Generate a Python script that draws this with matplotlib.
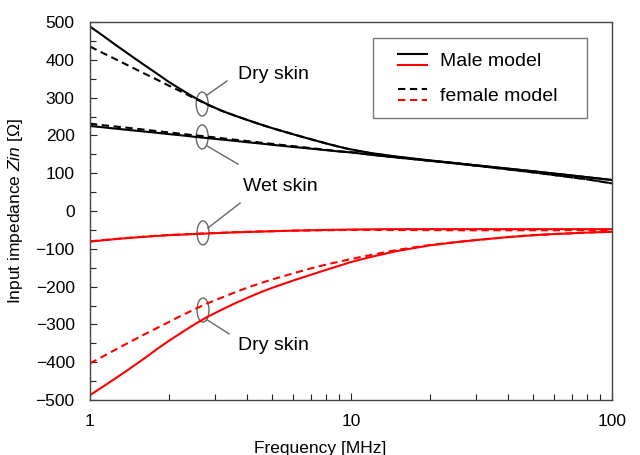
import matplotlib
matplotlib.use("Agg")
import matplotlib.pyplot as plt
from matplotlib.lines import Line2D
from matplotlib.patches import Ellipse
from matplotlib.legend_handler import HandlerBase
from matplotlib.transforms import ScaledTranslation
import numpy as np

plt.rcParams['font.family'] = ['Liberation Sans', 'DejaVu Sans']
plt.rcParams['mathtext.fontset'] = 'custom'
plt.rcParams['mathtext.it'] = 'Liberation Sans:italic'
plt.rcParams['mathtext.rm'] = 'Liberation Sans'

# ---- data ----
freq = [1, 1.12, 1.25, 1.4, 1.6, 1.8, 2, 2.25, 2.5, 2.8, 3.2, 3.6, 4, 4.5, 5,
        6, 7, 8, 9, 10, 12, 15, 20, 25, 30, 40, 50, 60, 70, 80, 100]

male_dry_re = [488, 464, 440, 416, 388, 364, 342, 320, 301, 283, 265, 252, 241, 229, 219,
               203, 190, 179, 170, 163, 153, 144, 134, 127, 121, 112, 105, 99, 94, 89.5, 82]
female_dry_re = [435, 418, 402, 385, 365, 348, 332, 315, 299, 282, 265, 252, 241, 229, 219,
                 203, 190, 179, 170, 162, 152, 143, 133, 126, 120, 110, 102, 95, 89, 84, 73]
male_wet_re = [225, 221.5, 218, 214.5, 210.5, 207, 203.5, 200, 196.5, 193, 189, 185.5, 182, 178.5, 175,
               169.5, 165, 161, 157.5, 155, 148.5, 141.5, 133, 126.5, 121, 112, 105, 99, 94, 89.5, 82]
female_wet_re = [231, 227, 223.5, 220, 215.5, 211.5, 208, 204, 200.5, 197, 192.5, 188.5, 185, 181, 177.5,
                 171.5, 166.5, 162, 158, 155.5, 149, 141.5, 133, 126, 120, 110, 102, 95, 89, 84, 73]

male_wet_im = [-81, -77.5, -74.5, -71.5, -68.5, -66, -64, -62.5, -61, -59.5, -58, -56.5, -55.5, -54.5, -53.5,
               -52, -51, -50, -49.5, -49, -48.5, -48, -48, -48, -48, -48, -48, -48, -48, -48, -48]
female_wet_im = [-80, -77, -74, -71, -68, -65.5, -63.5, -62, -60.5, -59, -57.5, -56, -55, -54, -53.5,
                 -52, -51.5, -51, -50.5, -50, -50, -50.5, -50.5, -51, -51, -51, -51, -51, -50.5, -50.5, -50]
male_dry_im = [-487, -465, -443, -420, -392, -366, -344, -321, -301, -281, -261, -244, -230, -215, -203,
               -184, -169, -156, -145, -135, -121, -106, -91, -83, -77, -69, -64, -61, -59, -57, -55]
female_dry_im = [-403, -385, -367, -349, -328, -310, -294, -276, -261, -245, -229, -215, -203, -191, -181,
                 -165, -152, -142, -134, -127, -116, -103, -90, -82.5, -77, -69, -64, -61, -59, -57, -55]

y_ticks = [500, 400, 300, 200, 100, 0, -100, -200, -300, -400, -500]
x_ticks = [1, 10, 100]

legend_labels = ["Male model", "female model"]

fig = plt.figure(figsize=(6.4, 4.55), dpi=100)
ax = fig.add_axes([90/640, 55/455, 522/640, 378/455])

lw = 1.5
dash = (0, (3.5, 2.2))
ax.plot(freq, male_dry_re, color='black', lw=lw)
ax.plot(freq, female_dry_re, color='black', lw=lw, ls=dash)
ax.plot(freq, male_wet_re, color='black', lw=lw)
ax.plot(freq, female_wet_re, color='black', lw=lw, ls=dash)
ax.plot(freq, male_wet_im, color='red', lw=lw)
ax.plot(freq, female_wet_im, color='red', lw=lw, ls=dash)
ax.plot(freq, male_dry_im, color='red', lw=lw)
ax.plot(freq, female_dry_im, color='red', lw=lw, ls=dash)

ax.set_xscale('log')
ax.set_xlim(1, 100)
ax.set_ylim(-500, 500)
ax.set_xticks(x_ticks)
ax.set_xticklabels([str(v) for v in x_ticks])
ax.set_yticks(y_ticks)
ax.set_yticks(np.arange(-450, 500, 100), minor=True)
ax.tick_params(axis='both', which='both', direction='in', top=False, right=False,
               labelsize=12.5, colors='#222222', labelcolor='black')
ax.tick_params(axis='both', which='major', length=5, width=0.8)
ax.tick_params(axis='both', which='minor', length=4, width=0.8)
ax.tick_params(axis='y', pad=11)
ax.tick_params(axis='x', pad=10)
for s in ax.spines.values():
    s.set_color('#444444')
    s.set_linewidth(1.0)

ax.set_xlabel("Frequency [MHz]", fontsize=12.5)
ax.xaxis.set_label_coords((320 - 90) / 522, -0.108)
ax.set_ylabel("Input impedance $\\it{Zin}$ [Ω]", fontsize=12.5)
ax.yaxis.set_label_coords(-0.125, 0.5)

# ---- annotations ----
gray = '#666666'
def ellipse(fx, yv):
    tr = fig.dpi_scale_trans + ScaledTranslation(fx, yv, ax.transData)
    e = Ellipse((0, 0), 0.12, 0.24, transform=tr, fill=False, edgecolor=gray, lw=1.0)
    ax.add_artist(e)

ellipse(2.69, 283)
ellipse(2.69, 196)
ellipse(2.71, -58)
ellipse(2.71, -262)

ax.plot([2.81, 3.35], [307, 344], color=gray, lw=1.0)
ax.plot([2.81, 3.69], [172, 124], color=gray, lw=1.0)
ax.plot([2.83, 3.76], [-45, 21], color=gray, lw=1.0)
ax.plot([2.81, 3.41], [-288, -325], color=gray, lw=1.0)

ax.text(3.69, 360, "Dry skin", fontsize=14, va='center', ha='left')
ax.text(3.86, 66, "Wet skin", fontsize=14, va='center', ha='left')
ax.text(3.69, -357, "Dry skin", fontsize=14, va='center', ha='left')

# ---- legend ----
class HandlerStack(HandlerBase):
    def create_artists(self, legend, orig_handle, xdescent, ydescent,
                       width, height, fontsize, trans):
        arts = []
        n = len(orig_handle)
        x0 = -xdescent + 0.3 * width
        x1 = -xdescent + width
        for i, h in enumerate(orig_handle):
            y = -ydescent + height * (0.5 + 0.32 - 0.64 * i / (n - 1))
            l = Line2D([x0, x1], [y, y])
            l.update_from(h)
            l.set_transform(trans)
            arts.append(l)
        return arts

h_male = (Line2D([], [], color='black', lw=lw), Line2D([], [], color='red', lw=lw))
h_fem = (Line2D([], [], color='black', lw=lw, ls=dash), Line2D([], [], color='red', lw=lw, ls=dash))
x0 = (373 - 90) / 522
y1 = (400 - 38) / 378
y0 = (400 - 118) / 378
leg = ax.legend([h_male, h_fem], legend_labels,
                handler_map={tuple: HandlerStack()},
                loc='upper left', bbox_to_anchor=(x0, y0, (587 - 373) / 522, y1 - y0),
                mode='expand', borderaxespad=0, fontsize=14, frameon=True, fancybox=False,
                handlelength=2.1, handleheight=1.0, handletextpad=0.7,
                labelspacing=0.8, borderpad=0.66)
leg.get_frame().set_edgecolor('#555555')
leg.get_frame().set_linewidth(1.0)

fig.savefig("out.png", dpi=100)
